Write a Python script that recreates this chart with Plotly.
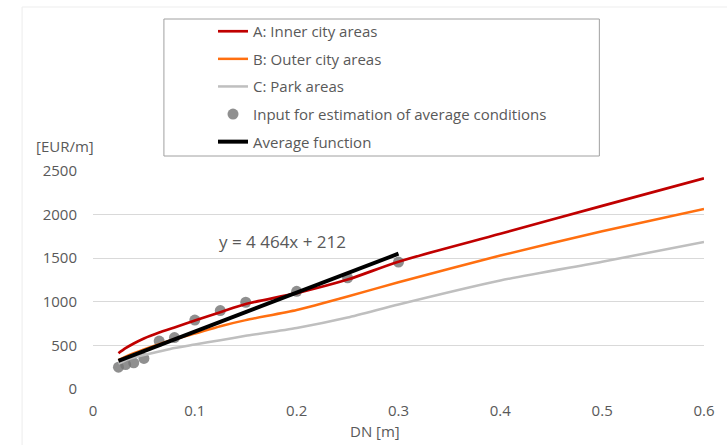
import plotly.graph_objects as go

# Pipe diameter DN [m] at which the area cost curves are given
dn = [0.025, 0.032, 0.04, 0.05, 0.065, 0.08, 0.1, 0.125, 0.15, 0.2, 0.25, 0.3, 0.4, 0.5, 0.6]

# Installation cost [EUR/m] per area type
inner_city = [410, 468, 522, 580, 648, 705, 785, 880, 975, 1100, 1255, 1460, 1780, 2100, 2415]
outer_city = [330, 370, 410, 455, 515, 570, 635, 720, 790, 905, 1060, 1225, 1530, 1810, 2065]
park_areas = [290, 330, 360, 390, 430, 470, 510, 560, 610, 700, 820, 970, 1245, 1460, 1685]

# Points used to estimate the average cost function
input_dn = [0.025, 0.032, 0.04, 0.05, 0.065, 0.08, 0.1, 0.125, 0.15, 0.2, 0.25, 0.3]
input_cost = [250, 280, 300, 350, 550, 590, 790, 900, 995, 1120, 1275, 1455]

# Linear fit of the input points: y = slope * x + intercept
slope = 4464
intercept = 212
avg_dn = [0.025, 0.3]
avg_cost = [slope * x + intercept for x in avg_dn]

x_ticks = [0, 0.1, 0.2, 0.3, 0.4, 0.5, 0.6]
x_tick_text = ["0", "0.1", "0.2", "0.3", "0.4", "0.5", "0.6"]
y_ticks = [0, 500, 1000, 1500, 2000, 2500]

W, H = 727, 445
ML, MR, MT, MB = 93, 18, 171, 56
PW, PH = W - ML - MR, H - MT - MB


def px_x(p):
    return (p - ML) / PW


def px_y(p):
    return (H - MB - p) / PH


FONT = "Open Sans"
TXT = "#595959"

fig = go.Figure()

fig.add_trace(go.Scatter(
    x=input_dn, y=input_cost, mode="markers",
    name="Input for estimation of average conditions",
    marker=dict(size=11, color="rgba(115,115,115,0.8)"),
    legendrank=4, legendgroup="d",
))
fig.add_trace(go.Scatter(
    x=dn, y=park_areas, mode="lines", name="C: Park areas",
    line=dict(color="#BFBFBF", width=2.5, shape="spline", smoothing=0.6),
    legendrank=3, legendgroup="c",
))
fig.add_trace(go.Scatter(
    x=dn, y=outer_city, mode="lines", name="B: Outer city areas",
    line=dict(color="#FF6F10", width=2.5, shape="spline", smoothing=0.6),
    legendrank=2, legendgroup="b",
))
fig.add_trace(go.Scatter(
    x=dn, y=inner_city, mode="lines", name="A: Inner city areas",
    line=dict(color="#C00000", width=2.7, shape="spline", smoothing=0.8),
    legendrank=1, legendgroup="a",
))
fig.add_trace(go.Scatter(
    x=avg_dn, y=avg_cost, mode="lines", name="Average function",
    line=dict(color="#000000", width=4),
    legendrank=5, legendgroup="e",
))

fig.update_layout(
    width=W, height=H,
    margin=dict(l=ML, r=MR, t=MT, b=MB),
    paper_bgcolor="white", plot_bgcolor="white",
    font=dict(family=FONT, size=15, color=TXT),
    showlegend=True,
    legend=dict(
        x=px_x(214), y=px_y(15), xanchor="left", yanchor="top",
        bgcolor="rgba(0,0,0,0)", borderwidth=0,
        font=dict(family=FONT, size=15, color=TXT),
        tracegroupgap=5.1, itemwidth=30,
    ),
    xaxis=dict(
        range=[0, 0.6], tickvals=x_ticks, ticktext=x_tick_text,
        showgrid=False, zeroline=False, showline=False,
        ticks="", ticklabelstandoff=11,
        tickfont=dict(family=FONT, size=15, color=TXT),
    ),
    yaxis=dict(
        range=[0, 2500], tickvals=y_ticks,
        showgrid=True, gridcolor="#D9D9D9", gridwidth=1,
        zeroline=False, showline=False,
        ticks="", ticklabelstandoff=15,
        tickfont=dict(family=FONT, size=15, color=TXT),
    ),
    shapes=[
        dict(type="rect", xref="paper", yref="paper",
             x0=px_x(21.5), x1=px_x(780), y0=px_y(7), y1=px_y(500),
             line=dict(color="#EDEDED", width=1), layer="below"),
        dict(type="rect", xref="paper", yref="paper",
             x0=px_x(164.5), x1=px_x(603.5), y0=px_y(19), y1=px_y(156),
             line=dict(color="#A0A0A0", width=1)),
    ],
    annotations=[
        dict(text="[EUR/m]", xref="paper", yref="paper",
             x=px_x(65), y=px_y(146), xanchor="center", yanchor="middle",
             showarrow=False, font=dict(family=FONT, size=15, color=TXT)),
        dict(text="DN [m]", xref="paper", yref="paper",
             x=px_x(377), y=px_y(431), xanchor="center", yanchor="middle",
             showarrow=False, font=dict(family=FONT, size=15, color=TXT)),
        dict(text=f"y = 4 464x + {intercept}", xref="paper", yref="paper",
             x=px_x(284), y=px_y(241), xanchor="center", yanchor="middle",
             showarrow=False, font=dict(family=FONT, size=17, color=TXT)),
    ],
)

fig.write_html("out.html")
